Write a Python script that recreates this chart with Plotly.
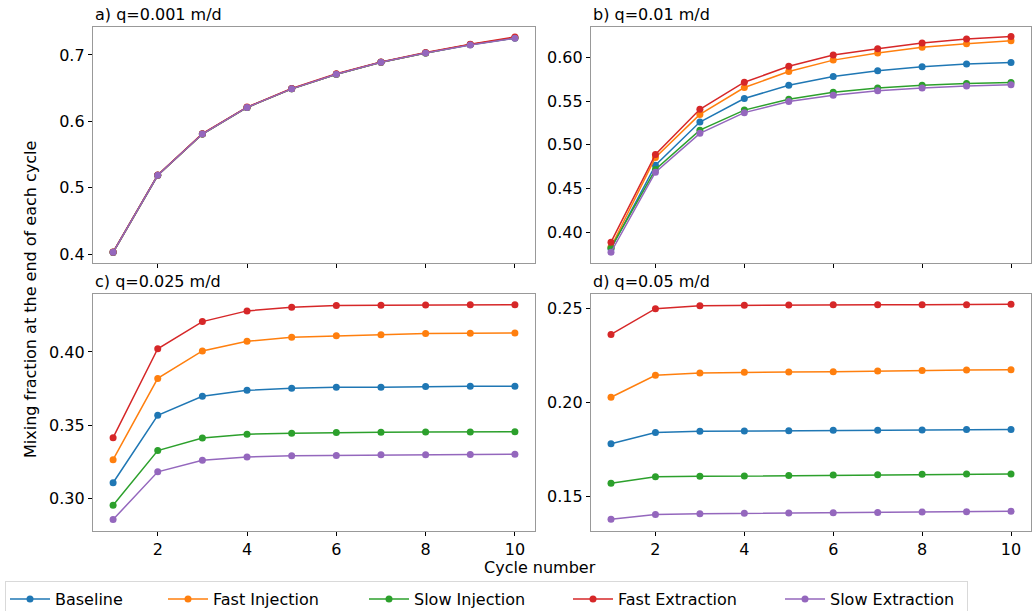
import plotly.graph_objects as go

cycles = [1, 2, 3, 4, 5, 6, 7, 8, 9, 10]
series_names = ["Baseline", "Fast Injection", "Slow Injection", "Fast Extraction", "Slow Extraction"]
colors = ["#1f77b4", "#ff7f0e", "#2ca02c", "#d62728", "#9467bd"]

# panel a) q=0.001 m/d
a_baseline = [0.403, 0.519, 0.581, 0.621, 0.649, 0.671, 0.689, 0.703, 0.7155, 0.7256]
a_fast_inj = [0.403, 0.519, 0.581, 0.621, 0.649, 0.671, 0.689, 0.703, 0.7157, 0.7258]
a_slow_inj = [0.403, 0.519, 0.581, 0.621, 0.649, 0.671, 0.689, 0.703, 0.7153, 0.7254]
a_fast_ext = [0.4035, 0.5195, 0.5815, 0.6215, 0.6495, 0.6717, 0.6893, 0.7035, 0.716, 0.727]
a_slow_ext = [0.403, 0.519, 0.581, 0.621, 0.649, 0.671, 0.689, 0.703, 0.715, 0.725]

# panel b) q=0.01 m/d
b_baseline = [0.381, 0.4766, 0.526, 0.5529, 0.5682, 0.5782, 0.5847, 0.5893, 0.5924, 0.5943]
b_fast_inj = [0.383, 0.4855, 0.5348, 0.5655, 0.5839, 0.5969, 0.605, 0.6115, 0.6157, 0.619]
b_slow_inj = [0.382, 0.4717, 0.5167, 0.5397, 0.552, 0.560, 0.565, 0.568, 0.570, 0.5713]
b_fast_ext = [0.3885, 0.489, 0.5406, 0.5716, 0.5898, 0.6027, 0.6099, 0.6164, 0.621, 0.624]
b_slow_ext = [0.377, 0.4686, 0.5131, 0.5368, 0.5495, 0.5568, 0.5617, 0.5651, 0.5674, 0.5686]

# panel c) q=0.025 m/d
c_baseline = [0.3109, 0.3568, 0.3698, 0.3739, 0.3752, 0.3759, 0.376, 0.3764, 0.3766, 0.3766]
c_fast_inj = [0.3266, 0.382, 0.4007, 0.4073, 0.410, 0.4111, 0.4118, 0.4125, 0.4127, 0.413]
c_slow_inj = [0.2955, 0.3328, 0.3414, 0.344, 0.3446, 0.3451, 0.3453, 0.3455, 0.3455, 0.3457]
c_fast_ext = [0.3416, 0.4022, 0.4207, 0.428, 0.4305, 0.4316, 0.4318, 0.432, 0.4322, 0.4322]
c_slow_ext = [0.2858, 0.3183, 0.3262, 0.3285, 0.3292, 0.3294, 0.3299, 0.3299, 0.3301, 0.3303]

# panel d) q=0.05 m/d
d_baseline = [0.1779, 0.1839, 0.1845, 0.1846, 0.1848, 0.185, 0.185, 0.1852, 0.1854, 0.1854]
d_fast_inj = [0.2026, 0.2143, 0.2155, 0.2159, 0.2161, 0.2162, 0.2166, 0.2169, 0.2171, 0.2173]
d_slow_inj = [0.1568, 0.1603, 0.1605, 0.1607, 0.1609, 0.1612, 0.1614, 0.1616, 0.1617, 0.1617]
d_fast_ext = [0.2361, 0.2498, 0.2514, 0.2516, 0.2518, 0.2519, 0.2519, 0.2519, 0.2519, 0.2521]
d_slow_ext = [0.1376, 0.1402, 0.1406, 0.1408, 0.141, 0.1411, 0.1413, 0.1415, 0.1417, 0.1419]

panel_titles = ["a) q=0.001 m/d", "b) q=0.01 m/d", "c) q=0.025 m/d", "d) q=0.05 m/d"]
x_ticks = [2, 4, 6, 8, 10]
a_yticks = [0.4, 0.5, 0.6, 0.7]
b_yticks = [0.40, 0.45, 0.50, 0.55, 0.60]
c_yticks = [0.30, 0.35, 0.40]
d_yticks = [0.15, 0.20, 0.25]

panels = [
    [a_baseline, a_fast_inj, a_slow_inj, a_fast_ext, a_slow_ext],
    [b_baseline, b_fast_inj, b_slow_inj, b_fast_ext, b_slow_ext],
    [c_baseline, c_fast_inj, c_slow_inj, c_fast_ext, c_slow_ext],
    [d_baseline, d_fast_inj, d_slow_inj, d_fast_ext, d_slow_ext],
]
yticks = [a_yticks, b_yticks, c_yticks, d_yticks]
yranges = [[0.387, 0.742], [0.3647, 0.6348], [0.278, 0.4395], [0.1314, 0.2576]]
ytickformats = [".1f", ".2f", ".2f", ".2f"]

W, H = 1032, 611
FONT = "DejaVu Sans"
xdom = [[93 / W, 535 / W], [591 / W, 1031 / W]]
ydom_top = [1 - 263 / H, 1 - 27 / H]
ydom_bot = [1 - 531 / H, 1 - 294 / H]
legend_widths = [103, 146, 149, 157, 132]

fig = go.Figure()
for p in range(4):
    ax = "" if p == 0 else str(p + 1)
    for s in range(5):
        fig.add_trace(go.Scatter(
            x=cycles, y=panels[p][s], mode="lines+markers",
            name=series_names[s],
            line=dict(color=colors[s], width=1.5),
            marker=dict(color=colors[s], size=7),
            showlegend=(p == 0),
            legendgroup=series_names[s],
            legendwidth=legend_widths[s],
            xaxis="x" + ax, yaxis="y" + ax,
        ))

layout = dict(
    width=W, height=H,
    margin=dict(l=0, r=0, t=0, b=0, autoexpand=False),
    paper_bgcolor="white", plot_bgcolor="white",
    font=dict(family=FONT, size=16, color="black"),
    showlegend=True,
    legend=dict(
        orientation="h", x=5 / W, y=1 - 581 / H, xanchor="left", yanchor="top",
        bordercolor="#d9d9d9", borderwidth=1, bgcolor="white",
        font=dict(family=FONT, size=16),
        itemwidth=40, tracegroupgap=0,
    ),
)
for p in range(4):
    ax = "" if p == 0 else str(p + 1)
    col = p % 2
    row = p // 2
    layout["xaxis" + ax] = dict(
        domain=xdom[col], range=[0.55, 10.45], anchor="y" + ax,
        tickvals=x_ticks, showticklabels=(row == 1),
        ticks="outside", ticklen=4, tickcolor="black",
        showline=True, linecolor="#999999", linewidth=1.3, mirror=True,
        showgrid=False, zeroline=False, automargin=False,
        tickfont=dict(family=FONT, size=16),
    )
    layout["yaxis" + ax] = dict(
        domain=ydom_top if row == 0 else ydom_bot, range=yranges[p],
        anchor="x" + ax, tickvals=yticks[p], tickformat=ytickformats[p],
        ticks="outside", ticklen=4, tickcolor="black",
        showline=True, linecolor="#999999", linewidth=1.3, mirror=True,
        showgrid=False, zeroline=False, automargin=False,
        tickfont=dict(family=FONT, size=16),
    )
fig.update_layout(**layout)

annotations = []
title_y = [1 - 15 / H, 1 - 15 / H, 1 - 281 / H, 1 - 281 / H]
for p in range(4):
    annotations.append(dict(
        text=panel_titles[p], xref="paper", yref="paper",
        x=xdom[p % 2][0], y=title_y[p], xanchor="left", yanchor="middle",
        showarrow=False, font=dict(family=FONT, size=16),
    ))
annotations.append(dict(
    text="Mixing fraction at the end of each cycle", xref="paper", yref="paper",
    x=30 / W, y=1 - 300 / H, xanchor="center", yanchor="middle", textangle=-90,
    showarrow=False, font=dict(family=FONT, size=16),
))
annotations.append(dict(
    text="Cycle number", xref="paper", yref="paper",
    x=540 / W, y=1 - 567 / H, xanchor="center", yanchor="middle",
    showarrow=False, font=dict(family=FONT, size=16),
))
fig.update_layout(annotations=annotations)

fig.write_html("out.html")
